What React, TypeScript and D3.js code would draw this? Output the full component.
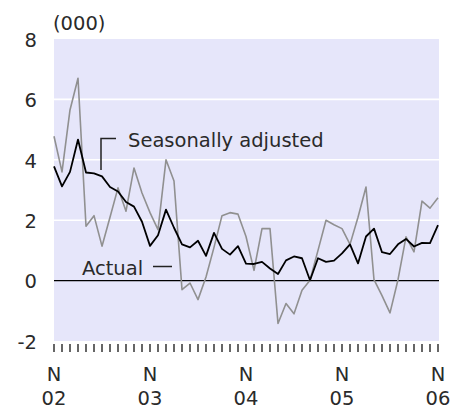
import React from "react";
import * as d3 from "d3";

const months: string[] = d3.range(49).map((i) => `m${i}`);
const seasonallyAdjusted: number[] = [
  3.78, 3.12, 3.6, 4.67, 3.58, 3.55, 3.45, 3.1, 2.95, 2.6, 2.45, 1.95, 1.15,
  1.5, 2.35, 1.75, 1.2, 1.1, 1.32, 0.82, 1.58, 1.05, 0.86, 1.14, 0.56,
  0.55, 0.62, 0.4, 0.22, 0.67, 0.8, 0.74, 0.01, 0.74, 0.62, 0.66, 0.9,
  1.2, 0.57, 1.46, 1.72, 0.94, 0.88, 1.2, 1.38, 1.13, 1.25, 1.24, 1.84,
];
const actual: number[] = [
  4.78, 3.6, 5.65, 6.7, 1.8, 2.15, 1.14, 2.1, 3.07, 2.3, 3.73, 2.9, 2.25,
  1.69, 4.0, 3.3, -0.3, -0.08, -0.63, 0.12, 1.1, 2.15, 2.25, 2.2, 1.46,
  0.34, 1.72, 1.72, -1.42, -0.76, -1.1, -0.32, 0.01, 1.0, 2.0, 1.85, 1.72,
  1.2, 2.1, 3.1, 0.03, -0.5, -1.07, 0.03, 1.45, 0.95, 2.63, 2.4, 2.74,
];
const yTicks: number[] = [-2, 0, 2, 4, 6, 8];
const xLabelIdx: number[] = [0, 12, 24, 36, 48];
const xLabelTop: string[] = ["N", "N", "N", "N", "N"];
const xLabelBottom: string[] = ["02", "03", "04", "05", "06"];

const W = 452;
const H = 407;
const left = 54;
const right = 439;
const top = 39;
const bottom = 341;
const FONT = "'DejaVu Sans', Verdana, sans-serif";
const FS = 19.5;

export default function App() {
  const x = d3.scalePoint<number>().domain(d3.range(months.length)).range([left, right - 1]);
  const y = d3.scaleLinear().domain([-2, 8]).range([bottom, top]);
  const line = d3
    .line<number>()
    .x((_, i) => x(i) as number)
    .y((d) => y(d));

  return (
    <svg
      width={W}
      height={H}
      style={{ position: "absolute", left: 0, top: 0, background: "#fff" }}
      fontFamily={FONT}
    >
      <rect x={left} y={top} width={right - left} height={bottom - top} fill="#e6e6fa" />
      {yTicks
        .filter((v) => v > -2 && v < 8 && v !== 0)
        .map((v) => (
          <line key={v} x1={left} x2={right} y1={y(v)} y2={y(v)} stroke="#ffffff" strokeWidth={1.6} />
        ))}
      <line x1={left} x2={right} y1={y(0)} y2={y(0)} stroke="#000" strokeWidth={1.4} />
      {yTicks.map((v) => (
        <text key={v} x={37} y={y(v)} dy="0.4em" textAnchor="end" fontSize={FS} fill="#2a2a2a">
          {v}
        </text>
      ))}
      <text x={53} y={29.5} fontSize={FS} fill="#2a2a2a">
        (000)
      </text>
      {months.map((m, i) => (
        <line
          key={m}
          x1={x(i)}
          x2={x(i)}
          y1={344}
          y2={352}
          stroke="#333"
          strokeWidth={1.5}
        />
      ))}
      {xLabelIdx.map((idx, k) => (
        <g key={idx}>
          <text x={x(idx)} y={381} textAnchor="middle" fontSize={FS} fill="#2a2a2a">
            {xLabelTop[k]}
          </text>
          <text x={x(idx)} y={404.5} textAnchor="middle" fontSize={FS} fill="#2a2a2a">
            {xLabelBottom[k]}
          </text>
        </g>
      ))}
      <path d={line(actual) || ""} fill="none" stroke="#909090" strokeWidth={1.6} strokeLinejoin="round" />
      <path d={line(seasonallyAdjusted) || ""} fill="none" stroke="#000" strokeWidth={1.8} strokeLinejoin="round" />
      <path d="M101,170V138.5H116" fill="none" stroke="#222" strokeWidth={1.5} />
      <text x={128} y={147} fontSize={FS} fill="#2a2a2a">
        Seasonally adjusted
      </text>
      <text x={82} y={275} fontSize={FS} fill="#2a2a2a">
        Actual
      </text>
      <line x1={153} x2={172} y1={266.5} y2={266.5} stroke="#222" strokeWidth={1.5} />
    </svg>
  );
}
